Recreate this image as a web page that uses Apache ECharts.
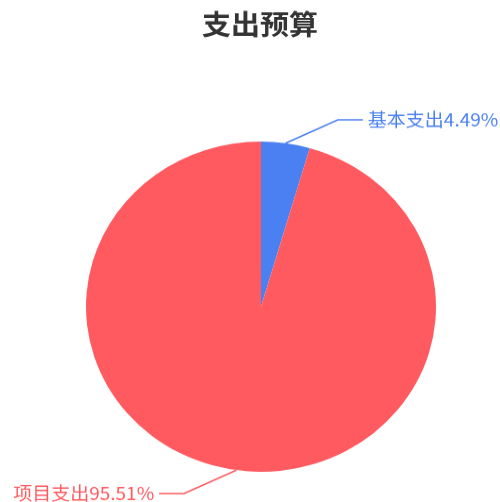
<!DOCTYPE html>
<html>
<head>
<meta charset="utf-8">
<script src="https://cdn.jsdelivr.net/npm/echarts@6/dist/echarts.min.js"></script>
<style>
  html, body { margin: 0; padding: 0; background: #fff; overflow: hidden; }
  /* 원본이 세로로 눌린 비율이라 살짝 압축 */
  #chart { width: 500px; height: 532px; transform: scaleY(0.9436); transform-origin: 0 0; }
</style>
</head>
<body>
<div id="chart"></div>
<script>
const TITLE = '支出预算';
const CATEGORIES = ['基本支出', '项目支出'];
const VALUES = [4.49, 95.51];
const COLORS = ['#4a80f2', '#ff5a5f'];

const CX = 261, CY = 325, RADIUS = 175;
const LEN = 25, LEN2 = 25, GAP = 5;

const chart = echarts.init(document.getElementById('chart'));
chart.setOption({
  animation: false,
  title: {
    text: TITLE,
    left: 255,
    textAlign: 'center',
    top: 6,
    textStyle: { fontFamily: 'Noto Sans CJK SC', fontSize: 29, fontWeight: 'bold', color: '#333' },
  },
  series: [{
    type: 'pie',
    center: [CX, CY],
    radius: RADIUS,
    startAngle: 90,
    data: CATEGORIES.map((name, i) => ({
      name,
      value: VALUES[i],
      itemStyle: { color: COLORS[i] },
      label: { color: COLORS[i] },
      labelLine: { lineStyle: { color: COLORS[i] } },
    })),
    label: {
      formatter: '{b}{d}%',
      fontFamily: 'Noto Sans CJK SC',
      fontSize: 19,
    },
    labelLine: { length: LEN, length2: LEN2, lineStyle: { width: 1.5 } },
    // 옛 버전(v4)처럼 라벨을 바깥 원 위로 밀어내서 꺾인 선 모양을 맞춤
    labelLayout: (params) => {
      const pts = params.labelLinePoints;
      if (!pts) return {};
      const dir = pts[2][0] > pts[1][0] ? 1 : -1;
      const y = pts[1][1];
      const dy = Math.abs(y - CY);
      const R = RADIUS + LEN + LEN2;
      const dx = dy < R ? Math.sqrt(R * R - dy * dy) : Math.abs(pts[2][0] - CX);
      const textX = CX + dir * dx;
      const p3 = textX - dir * GAP;
      return {
        x: textX,
        y,
        align: dir > 0 ? 'left' : 'right',
        verticalAlign: 'middle',
        labelLinePoints: [pts[0], [p3 - dir * LEN2, y], [p3, y]],
      };
    },
  }],
});
</script>
</body>
</html>
